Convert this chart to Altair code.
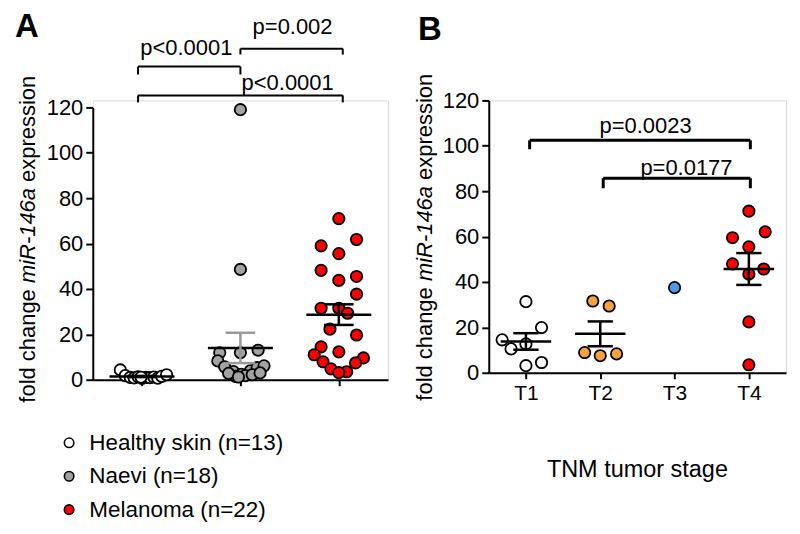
import altair as alt
import pandas as pd

FONT = "Liberation Sans"

# ---------------- Panel A data ----------------
groups_A = ["Healthy skin (n=13)", "Naevi (n=18)", "Melanoma (n=22)"]
colors_A = ["#FFFFFF", "#A3A3A3", "#FF0000"]

healthy_vals = [4.3, 1.8, 1.0, 0.8, 1.3, 0.6, 1.0, 0.9, 1.2, 0.7, 1.5, 2.2, 1.1]
healthy_dx = [-0.22, -0.17, -0.12, -0.08, -0.04, 0.0, 0.04, 0.08, 0.12, 0.16, 0.2, 0.25, -0.01]

naevi_vals = [119.0, 48.6, 11.9, 11.9, 13.0, 8.3, 5.7, 3.6, 2.4, 3.9, 5.3, 6.1,
              1.5, 1.8, 2.8, 2.2, 3.0, 1.2]
naevi_dx = [0.0, 0.0, -0.21, 0.0, 0.18, -0.23, -0.16, -0.07, 0.01, 0.10, 0.17, 0.24,
            -0.05, 0.05, -0.12, 0.12, 0.20, -0.02]

melanoma_vals = [71.0, 61.8, 59.0, 55.6, 48.2, 43.8, 45.5, 37.7, 31.5, 31.5, 29.3,
                 22.3, 19.7, 14.5, 12.3, 11.0, 9.6, 7.9, 7.4, 4.8, 3.5, 3.1]
melanoma_dx = [0.0, 0.18, -0.18, 0.0, -0.18, 0.0, 0.18, 0.18, -0.18, 0.0, 0.09,
               -0.09, 0.18, -0.18, 0.0, -0.25, 0.25, -0.16, 0.17, -0.08, 0.08, 0.0]

# significance brackets, panel A (x in group units, y in data units)
brA_x1 = [-0.04, 1.0, -0.04]
brA_x2 = [1.0, 2.04, 2.04]
brA_y = [138.0, 145.9, 125.3]
brA_drop = [3.5, 2.6, 3.1]
brA_text = ["p<0.0001", "p=0.002", "p<0.0001"]
brA_tx = [0.45, 1.53, 1.48]
brA_ty = [143.3, 152.5, 127.5]

# ---------------- Panel B data ----------------
stages = ["T1", "T2", "T3", "T4"]
colors_B = ["#FFFFFF", "#F9A13A", "#4B9BEA", "#FF0000"]
t1_vals = [31.3, 19.9, 14.5, 10.5, 12.7, 3.1, 4.5]
t1_dx = [0.0, 0.21, -0.32, -0.2, 0.0, 0.0, 0.21]
t2_vals = [31.6, 29.4, 8.9, 7.5, 8.3]
t2_dx = [-0.1, 0.12, -0.21, 0.0, 0.22]
t3_vals = [37.5]
t3_dx = [0.0]
t4_vals = [71.2, 62.1, 59.5, 55.5, 48.0, 45.7, 43.5, 22.4, 3.5]
t4_dx = [0.0, 0.22, -0.22, 0.0, -0.22, 0.2, 0.0, 0.0, 0.0]

brB_x1 = [0.05, 1.04]
brB_x2 = [3.02, 3.02]
brB_y = [102.4, 85.7]
brB_drop = [3.9, 4.4]
brB_text = ["p=0.0023", "p=0.0177"]
brB_tx = [1.61, 2.16]
brB_ty = [105.5, 87.0]

y_ticks = [0, 20, 40, 60, 80, 100, 120]

# ---------------- tables ----------------
rowsA = []
for g, (vals, dxs) in enumerate([(healthy_vals, healthy_dx), (naevi_vals, naevi_dx),
                                 (melanoma_vals, melanoma_dx)]):
    for v, d in zip(vals, dxs):
        rowsA.append({"g": g, "group": groups_A[g], "value": v, "x": g + d})
dfA = pd.DataFrame(rowsA)

rowsB = []
for g, (vals, dxs) in enumerate([(t1_vals, t1_dx), (t2_vals, t2_dx), (t3_vals, t3_dx),
                                 (t4_vals, t4_dx)]):
    for v, d in zip(vals, dxs):
        rowsB.append({"g": g, "stage": stages[g], "value": v, "x": g + d})
dfB = pd.DataFrame(rowsB)


def bracket_tables(x1, x2, y, drop):
    h = pd.DataFrame({"x1": x1, "x2": x2, "y": y})
    legs = []
    for a, b, yy, dd in zip(x1, x2, y, drop):
        legs.append({"x": a, "y": yy, "y2": yy - dd})
        legs.append({"x": b, "y": yy, "y2": yy - dd})
    return h, pd.DataFrame(legs)


# ---------------- shared styles ----------------
def y_axis():
    return alt.Axis(values=y_ticks, title=None, grid=False, labelFontSize=22,
                    labelFont=FONT, labelColor="black", labelPadding=3, tickSize=7,
                    tickWidth=2, tickColor="black", domainWidth=2, domainColor="black")


def x_axis_A():
    return alt.Axis(values=[0, 1, 2], labels=False, title=None, grid=False, tickSize=6,
                    tickWidth=2, tickColor="black", domainWidth=2, domainColor="black")


def x_axis_B():
    return alt.Axis(values=[0, 1, 2, 3], labelExpr="'T' + (datum.value + 1)", title=None,
                    grid=False, labelFontSize=21, labelFont=FONT, labelColor="black",
                    labelPadding=4, tickSize=6, tickWidth=2, tickColor="black",
                    domainWidth=2, domainColor="black")


xsA = alt.Scale(domain=[-0.5, 2.5], nice=False, zero=False)
ysA = alt.Scale(domain=[0, 120], range=[280, 7], nice=False)
xsB = alt.Scale(domain=[-0.5, 3.5], nice=False, zero=False)
ysB = alt.Scale(domain=[0, 120], nice=False)


def XA(f):
    return alt.X(f, type="quantitative", scale=xsA, axis=x_axis_A())


def X2(f):
    return alt.X2(f)


def YA(f):
    return alt.Y(f, type="quantitative", scale=ysA, axis=y_axis())


def XB(f):
    return alt.X(f, type="quantitative", scale=xsB, axis=x_axis_B())


def YB(f):
    return alt.Y(f, type="quantitative", scale=ysB, axis=y_axis())


def stats_chart(df, half_mean, half_cap):
    return alt.Chart(df).transform_aggregate(
        m="mean(value)", se="stderr(value)", n="count()", groupby=["g"]
    ).transform_filter("datum.n > 1").transform_calculate(
        x1=f"datum.g - {half_mean}", x2=f"datum.g + {half_mean}",
        c1=f"datum.g - {half_cap}", c2=f"datum.g + {half_cap}",
        lo="datum.m - datum.se", hi="datum.m + datum.se",
    )


def title_pieces(x, y0, size=22):
    w_space = 0.278 * size
    w1 = 5.17 * size
    w2 = 4.334 * size
    pieces = [("fold change", "normal", y0), ("miR-146a", "italic", y0 - w1 - w_space),
              ("expression", "normal", y0 - w1 - w2 - 2 * w_space)]
    out = []
    for txt, style, yy in pieces:
        out.append(alt.Chart(pd.DataFrame({"a": [0]})).mark_text(
            text=txt, angle=270, align="left", baseline="middle", font=FONT,
            fontSize=size, fontStyle=style, color="black"
        ).encode(x=alt.value(x), y=alt.value(yy)))
    return out


def label_chart(txt, x, y):
    return alt.Chart(pd.DataFrame({"a": [0]})).mark_text(
        text=txt, align="left", baseline="alphabetic", font=FONT, fontSize=33,
        fontWeight="bold", color="black"
    ).encode(x=alt.value(x), y=alt.value(y))


# ---------------- Panel A ----------------
pointsA = alt.Chart(dfA).mark_circle(size=130, stroke="black", strokeWidth=1.8,
                                     opacity=1).encode(
    x=XA("x"), y=YA("value"),
    fill=alt.Fill("group:N", scale=alt.Scale(domain=groups_A, range=colors_A),
                  legend=alt.Legend(title=None, orient="none", legendX=-35, legendY=332,
                                    labelFontSize=22.5, labelFont=FONT, labelColor="black",
                                    labelLimit=0,
                                    symbolType="circle", symbolSize=90,
                                    symbolStrokeColor="black", symbolStrokeWidth=1.6,
                                    symbolOpacity=1, rowPadding=10.5, labelOffset=9)),
)

sA = stats_chart(dfA, 0.33, 0.15)
err_col = alt.condition("datum.g == 1", alt.value("#999999"), alt.value("black"))
meanA = sA.mark_rule(strokeWidth=2.5, color="black").encode(x=XA("x1"), x2=X2("x2"), y=YA("m"))
whiskA = sA.mark_rule(strokeWidth=2.5).encode(x=XA("g"), y=YA("lo"), y2=alt.Y2("hi"), color=err_col)
capHiA = sA.mark_rule(strokeWidth=2.5).encode(x=XA("c1"), x2=X2("c2"), y=YA("hi"), color=err_col)
capLoA = sA.mark_rule(strokeWidth=2.5).encode(x=XA("c1"), x2=X2("c2"), y=YA("lo"), color=err_col)

hA, lA = bracket_tables(brA_x1, brA_x2, brA_y, brA_drop)
brHA = alt.Chart(hA).mark_rule(strokeWidth=2, color="black", clip=False).encode(
    x=XA("x1"), x2=X2("x2"), y=YA("y"))
brLA = alt.Chart(lA).mark_rule(strokeWidth=2, color="black", clip=False).encode(
    x=XA("x"), y=YA("y"), y2=alt.Y2("y2"))
txtA = alt.Chart(pd.DataFrame({"t": brA_text, "x": brA_tx, "y": brA_ty})).mark_text(
    align="center", baseline="alphabetic", font=FONT, fontSize=22, color="black",
    clip=False).encode(x=XA("x"), y=YA("y"), text="t:N")

panelA = alt.layer(
    pointsA, meanA, whiskA, capHiA, capLoA, brHA, brLA, txtA,
    *title_pieces(-65, 303), label_chart("A", -78, -64)
).properties(width=296, height=280)

# ---------------- Panel B ----------------
pointsB = alt.Chart(dfB).mark_circle(size=130, stroke="black", strokeWidth=1.8,
                                     opacity=1).encode(
    x=XB("x"), y=YB("value"),
    fill=alt.Fill("stage:N", scale=alt.Scale(domain=stages, range=colors_B), legend=None),
)
sB = stats_chart(dfB, 0.34, 0.17)
meanB = sB.mark_rule(strokeWidth=2.5, color="black").encode(x=XB("x1"), x2=X2("x2"), y=YB("m"))
whiskB = sB.mark_rule(strokeWidth=2.5, color="black").encode(x=XB("g"), y=YB("lo"), y2=alt.Y2("hi"))
capHiB = sB.mark_rule(strokeWidth=2.5, color="black").encode(x=XB("c1"), x2=X2("c2"), y=YB("hi"))
capLoB = sB.mark_rule(strokeWidth=2.5, color="black").encode(x=XB("c1"), x2=X2("c2"), y=YB("lo"))

hB, lB = bracket_tables(brB_x1, brB_x2, brB_y, brB_drop)
brHB = alt.Chart(hB).mark_rule(strokeWidth=3, color="black", clip=False).encode(
    x=XB("x1"), x2=X2("x2"), y=YB("y"))
brLB = alt.Chart(lB).mark_rule(strokeWidth=3, color="black", clip=False).encode(
    x=XB("x"), y=YB("y"), y2=alt.Y2("y2"))
txtB = alt.Chart(pd.DataFrame({"t": brB_text, "x": brB_tx, "y": brB_ty})).mark_text(
    align="center", baseline="alphabetic", font=FONT, fontSize=22, color="black",
    clip=False).encode(x=XB("x"), y=YB("y"), text="t:N")

xtitleB = alt.Chart(pd.DataFrame({"a": [0]})).mark_text(
    text="TNM tumor stage", align="center", baseline="middle", font=FONT, fontSize=23.5,
    color="black").encode(x=alt.value(149), y=alt.value(371))

panelB = alt.layer(
    pointsB, meanB, whiskB, capHiB, capLoB, brHB, brLB, txtB, xtitleB,
    *title_pieces(-64, 301), label_chart("B", -71, -61)
).properties(width=298, height=273)

chart = alt.hconcat(panelA, panelB, spacing=101, bounds="flush").resolve_scale(
    fill="independent"
).properties(
    padding={"left": 6, "top": 1, "right": 5, "bottom": 5}
).configure_view(stroke=None).configure(font=FONT, background="white")

chart.save("out.html", embed_options={"renderer": "svg", "actions": False})
